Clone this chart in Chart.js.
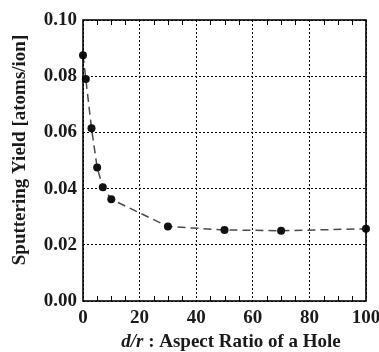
<!DOCTYPE html>
<html>
<head>
<meta charset="utf-8">
<script src="https://cdn.jsdelivr.net/npm/chart.js@4/dist/chart.umd.min.js"></script>
<style>
html,body{margin:0;padding:0;background:#fff;}
#wrap{width:379px;height:352px;position:relative;}
</style>
</head>
<body>
<div id="wrap"><canvas id="c" width="379" height="352"></canvas></div>
<script>
// Data
const aspectRatio = [0, 1, 3, 5, 7, 10, 30, 50, 70, 100];
const sputteringYield = [0.0875, 0.079, 0.0615, 0.0475, 0.0405, 0.0362, 0.0265, 0.0253, 0.0250, 0.0257];
const xTickValues = [0, 20, 40, 60, 80, 100];
const yTickLabels = ['0.00', '0.02', '0.04', '0.06', '0.08', '0.10'];
const xTitleItalic = 'd/r';
const xTitleRest = ' : Aspect Ratio of a Hole';
const yTitle = 'Sputtering Yield [atoms/ion]';

const FONT = '"Liberation Serif", "Times New Roman", serif';

const framePlugin = {
  id: 'frame',
  afterDatasetsDraw(chart) {
    const {ctx, chartArea: a, scales: {x}} = chart;
    ctx.save();
    ctx.strokeStyle = '#000';
    ctx.lineWidth = 1.6;
    ctx.setLineDash([]);
    ctx.strokeRect(a.left, a.top, a.right - a.left, a.bottom - a.top);
    ctx.lineWidth = 1;
    for (let v = 5; v < 100; v += 5) {
      if (v % 20 === 0) continue;
      const px = Math.round(x.getPixelForValue(v)) + 0.5;
      ctx.beginPath();
      ctx.moveTo(px, a.bottom); ctx.lineTo(px, a.bottom - 5);
      ctx.moveTo(px, a.top); ctx.lineTo(px, a.top + 5);
      ctx.stroke();
    }
    ctx.restore();
  },
  afterDraw(chart) {
    const {ctx} = chart;
    ctx.save();
    ctx.fillStyle = '#1a1a1a';
    ctx.textBaseline = 'alphabetic';
    // x title (mixed styles)
    const fItal = 'italic bold 19px ' + FONT;
    const fBold = 'bold 19px ' + FONT;
    ctx.font = fItal; const w1 = ctx.measureText(xTitleItalic).width;
    ctx.font = fBold; const w2 = ctx.measureText(xTitleRest).width;
    const cx = 231;
    const sx = cx - (w1 + w2) / 2;
    ctx.font = fItal; ctx.textAlign = 'left';
    ctx.fillText(xTitleItalic, sx, 347);
    ctx.font = fBold;
    ctx.fillText(xTitleRest, sx + w1, 347);
    // y title
    ctx.translate(25, 150);
    ctx.rotate(-Math.PI / 2);
    ctx.textAlign = 'center';
    ctx.font = 'bold 19px ' + FONT;
    ctx.fillText(yTitle, 0, 0);
    ctx.restore();
  }
};

new Chart(document.getElementById('c'), {
  type: 'scatter',
  data: {
    datasets: [{
      data: aspectRatio.map((v, i) => ({x: v, y: sputteringYield[i]})),
      showLine: true,
      borderColor: '#4a4a4a',
      borderWidth: 1.5,
      borderDash: [8, 5],
      tension: 0,
      pointRadius: 4,
      pointBackgroundColor: '#111',
      pointBorderColor: '#111',
      pointBorderWidth: 0,
      clip: false
    }]
  },
  options: {
    responsive: false,
    animation: false,
    devicePixelRatio: 1,
    layout: {padding: {left: 0, right: 13, top: 20, bottom: 0}},
    plugins: {legend: {display: false}, tooltip: {enabled: false}},
    scales: {
      x: {
        type: 'linear', min: 0, max: 100,
        afterBuildTicks(s) { s.ticks = xTickValues.map(v => ({value: v})); },
        ticks: {
          color: '#1a1a1a', padding: 6,
          font: {family: FONT, size: 19, weight: 'bold'},
          maxRotation: 0, autoSkip: false
        },
        grid: {color: '#000', lineWidth: 1, drawTicks: false},
        border: {display: false, dash: [2, 2]},
        title: {display: false, text: xTitleItalic + xTitleRest},
        afterFit(s) { s.height = 51; s.paddingLeft = 0; s.paddingRight = 0; }
      },
      y: {
        type: 'linear', min: 0, max: 0.10,
        afterBuildTicks(s) { s.ticks = yTickLabels.map(t => ({value: parseFloat(t)})); },
        ticks: {
          color: '#1a1a1a', padding: 6,
          font: {family: FONT, size: 19, weight: 'bold'},
          callback: (v, i) => yTickLabels[i]
        },
        grid: {color: '#000', lineWidth: 1, drawTicks: false},
        border: {display: false, dash: [2, 2]},
        title: {display: false, text: yTitle},
        afterFit(s) { s.width = 83; s.paddingTop = 0; s.paddingBottom = 0; }
      }
    }
  },
  plugins: [framePlugin]
});
</script>
</body>
</html>
